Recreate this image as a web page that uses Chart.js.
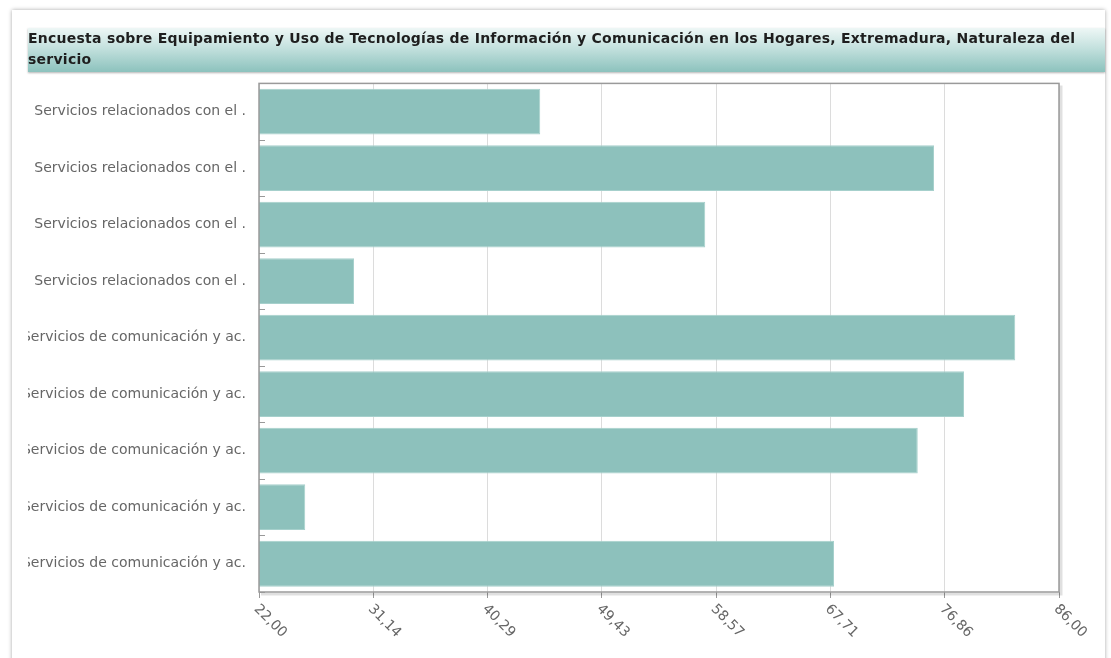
<!DOCTYPE html>
<html>
<head>
<meta charset="utf-8">
<script src="https://cdn.jsdelivr.net/npm/chart.js@4"></script>
<style>
    body { margin: 0; background: #fff; width: 1111px; height: 658px; overflow: hidden; position: relative; }
    .card {
        position: absolute; left: 12px; top: 10px; width: 1093px; height: 670px;
        background: #fff; box-shadow: 0 0 4px rgba(0,0,0,0.35);
    }
    .title {
        position: absolute; left: 28px; top: 28px; width: 1077px; height: 44px; z-index: 2;
        background: linear-gradient(to bottom, #eef7f6 0%, #c4e1de 45%, #8cc2bd 100%);
        box-shadow: 0 1px 2px rgba(0,0,0,0.3);
        font: bold 14px 'DejaVu Sans', Verdana, sans-serif; color: #1e1e1e;
        letter-spacing: 0.25px; line-height: 21px; padding-top: 0; box-sizing: border-box;
    }
    .wrap { position: absolute; left: 28px; top: 70px; width: 1072px; height: 588px; }
</style>
</head>
<body>
<div class="card"></div>
<div class="title">Encuesta sobre Equipamiento y Uso de Tecnologías de Información y Comunicación en los Hogares, Extremadura, Naturaleza del servicio</div>
<div class="wrap"><canvas id="chart"></canvas></div>
<script>
const categories = [
    'Servicios relacionados con el .',
    'Servicios relacionados con el .',
    'Servicios relacionados con el .',
    'Servicios relacionados con el .',
    'Servicios de comunicación y ac.',
    'Servicios de comunicación y ac.',
    'Servicios de comunicación y ac.',
    'Servicios de comunicación y ac.',
    'Servicios de comunicación y ac.'
];
const values     = [44.5, 76.0, 57.7, 29.6, 82.5, 78.4, 74.7, 25.7, 68.0];
const xTickVals  = [22, 31.14, 40.29, 49.43, 58.57, 67.71, 76.86, 86];

const BAR_COLOR = '#8dc1bc';

// frame around the plot area, with a soft shadow right/bottom
const frame = {
    id: 'frame',
    afterDatasetsDraw(chart) {
        const { ctx, chartArea: a } = chart;
        ctx.save();
        ctx.strokeStyle = 'rgba(0,0,0,0.12)';
        ctx.lineWidth = 3;
        ctx.beginPath();
        ctx.moveTo(a.right + 2, a.top + 2);
        ctx.lineTo(a.right + 2, a.bottom + 2);
        ctx.lineTo(a.left + 2, a.bottom + 2);
        ctx.stroke();
        ctx.strokeStyle = '#9a9a9a';
        ctx.lineWidth = 1.5;
        ctx.strokeRect(a.left, a.top, a.right - a.left, a.bottom - a.top);
        // little marks at the category borders on the left side
        const sy = chart.scales.y;
        ctx.strokeStyle = '#999';
        ctx.lineWidth = 1;
        for (let i = 1; i <= categories.length; i++) {
            const y = Math.round((sy.getPixelForValue(i - 1) + sy.getPixelForValue(i)) / 2) + 0.5;
            ctx.beginPath();
            ctx.moveTo(a.left, y);
            ctx.lineTo(a.left + 6, y);
            ctx.stroke();
        }
        ctx.restore();
    }
};

// x labels turned 45deg clockwise, starting at the tick
const xLabels = {
    id: 'xLabels',
    afterDraw(chart) {
        const { ctx, chartArea: a } = chart;
        const sx = chart.scales.x;
        ctx.save();
        ctx.fillStyle = '#666';
        ctx.font = '14px "DejaVu Sans", Verdana, sans-serif';
        ctx.textAlign = 'left';
        ctx.textBaseline = 'middle';
        xTickVals.forEach(v => {
            const x = sx.getPixelForValue(v);
            ctx.save();
            ctx.translate(x - 3, a.bottom + 15);
            ctx.rotate(Math.PI / 4);
            ctx.fillText(v.toFixed(2).replace('.', ','), 0, 0);
            ctx.restore();
        });
        ctx.restore();
    }
};

new Chart(document.getElementById('chart'), {
    type: 'bar',
    data: {
        labels: categories,
        datasets: [{
            data:               values,
            backgroundColor:    BAR_COLOR,
            borderColor:        '#a6d0cc',
            borderWidth:        1,
            categoryPercentage: 1,
            barPercentage:      0.81
        }]
    },
    options: {
        indexAxis: 'y',
        responsive: true,
        maintainAspectRatio: false,
        animation: false,
        layout: { padding: { top: 0, right: 41, left: 0, bottom: 0 } },
        plugins: { legend: { display: false }, tooltip: { enabled: false } },
        scales: {
            x: {
                min: 22,
                max: 86,
                afterBuildTicks: s => { s.ticks = xTickVals.map(v => ({ value: v })); },
                afterFit: s => { s.height = 66; },
                ticks:  { display: false },
                grid:   { color: '#dcdcdc', tickLength: 6, tickColor: '#999' },
                border: { display: false }
            },
            y: {
                afterFit: s => { s.width = 231; },
                ticks:  { color: '#666', padding: 5, font: { family: '"DejaVu Sans", Verdana, sans-serif', size: 14 } },
                grid:   { display: false },
                border: { display: false }
            }
        }
    },
    plugins: [frame, xLabels]
});
</script>
</body>
</html>
